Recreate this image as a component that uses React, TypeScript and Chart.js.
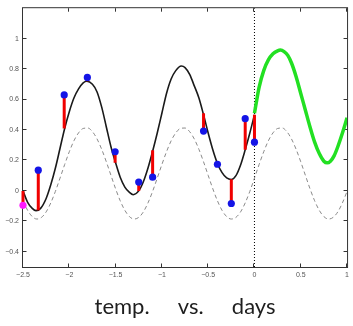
import React, { useEffect, useRef } from "react";
import { Chart, registerables } from "chart.js";

Chart.register(...registerables);

// x range and ticks
const xTicks = [-2.5, -2, -1.5, -1, -0.5, 0, 0.5, 1];
const yTicks = [-0.4, -0.2, 0, 0.2, 0.4, 0.6, 0.8, 1];

// fitted curve (black) on the training range
const blackX = [-2.5, -2.45, -2.4, -2.36, -2.31, -2.25, -2.2, -2.15, -2.1, -2.05, -2.0, -1.95, -1.9, -1.85, -1.81, -1.75, -1.7, -1.65, -1.6, -1.55, -1.5, -1.45, -1.4, -1.35, -1.31, -1.25, -1.2, -1.15, -1.1, -1.05, -1.0, -0.95, -0.9, -0.85, -0.79, -0.75, -0.7, -0.65, -0.6, -0.55, -0.5, -0.45, -0.4, -0.35, -0.3, -0.25, -0.2, -0.15, -0.1, -0.05, 0.0];
const blackY = [0.0, -0.075, -0.115, -0.13, -0.115, -0.05, 0.04, 0.15, 0.28, 0.41, 0.52, 0.61, 0.67, 0.71, 0.72, 0.70, 0.65, 0.55, 0.42, 0.29, 0.185, 0.09, 0.025, -0.01, -0.025, 0.0, 0.06, 0.15, 0.26, 0.38, 0.51, 0.64, 0.735, 0.79, 0.82, 0.81, 0.765, 0.69, 0.61, 0.50, 0.38, 0.27, 0.18, 0.12, 0.085, 0.075, 0.10, 0.17, 0.27, 0.38, 0.50];

// forecast (green)
const greenX = [0.0, 0.05, 0.1, 0.15, 0.2, 0.25, 0.28, 0.32, 0.36, 0.4, 0.45, 0.5, 0.55, 0.6, 0.65, 0.7, 0.75, 0.785, 0.82, 0.86, 0.9, 0.95, 1.0];
const greenY = [0.51, 0.68, 0.79, 0.86, 0.90, 0.92, 0.925, 0.915, 0.89, 0.84, 0.75, 0.64, 0.53, 0.42, 0.32, 0.245, 0.195, 0.184, 0.195, 0.23, 0.29, 0.38, 0.48];

// true underlying signal (dashed gray)
const dashX = [-2.5, -2.45, -2.4, -2.35, -2.3, -2.25, -2.2, -2.15, -2.1, -2.05, -2.0, -1.95, -1.9, -1.85, -1.8, -1.75, -1.7, -1.65, -1.6, -1.55, -1.5, -1.45, -1.4, -1.35, -1.3, -1.25, -1.2, -1.15, -1.1, -1.05, -1.0, -0.95, -0.9, -0.85, -0.8, -0.75, -0.7, -0.65, -0.6, -0.55, -0.5, -0.45, -0.4, -0.35, -0.3, -0.25, -0.2, -0.15, -0.1, -0.05, 0.0, 0.05, 0.1, 0.15, 0.2, 0.25, 0.3, 0.35, 0.4, 0.45, 0.5, 0.55, 0.6, 0.65, 0.7, 0.75, 0.8, 0.85, 0.9, 0.95, 1.0];
const dashY = [-0.065, -0.128, -0.169, -0.185, -0.174, -0.138, -0.079, -0.003, 0.084, 0.173, 0.257, 0.329, 0.381, 0.41, 0.413, 0.389, 0.341, 0.273, 0.191, 0.102, 0.014, -0.065, -0.128, -0.169, -0.185, -0.174, -0.138, -0.079, -0.003, 0.084, 0.173, 0.257, 0.329, 0.381, 0.41, 0.413, 0.389, 0.341, 0.273, 0.191, 0.102, 0.014, -0.065, -0.128, -0.169, -0.185, -0.174, -0.138, -0.079, -0.003, 0.084, 0.173, 0.257, 0.329, 0.381, 0.41, 0.413, 0.389, 0.341, 0.273, 0.191, 0.102, 0.014, -0.065, -0.128, -0.169, -0.185, -0.174, -0.138, -0.079, -0.003];

// observations (blue) and the fit value at each (red residual stems)
const obsX = [-2.335, -2.055, -1.805, -1.505, -1.25, -1.1, -0.55, -0.4, -0.25, -0.1, 0.0];
const obsY = [0.136, 0.63, 0.745, 0.257, 0.058, 0.09, 0.393, 0.175, -0.083, 0.474, 0.32];
const obsFit = [-0.127, 0.41, 0.72, 0.184, 0.0, 0.267, 0.51, 0.18, 0.077, 0.27, 0.5];

// first observation (magenta)
const startX = [-2.5];
const startY = [-0.095];
const startFit = [0.0];

const pts = (xs: number[], ys: number[]) => xs.map((x, i) => ({ x, y: ys[i] }));

const fmt = (v: number) => {
  const s = String(Math.round(v * 10) / 10);
  return s.replace("-", "\u2212");
};

const framePlugin = {
  id: "frame",
  beforeDatasetsDraw(chart: any) {
    const { ctx, chartArea, scales } = chart;
    const { left, right, top, bottom } = chartArea;
    const x = scales.x;
    const y = scales.y;
    ctx.save();
    ctx.strokeStyle = "#333";
    ctx.lineWidth = 1;
    ctx.strokeRect(left - 0.5, top - 0.5, right - left + 1, bottom - top + 1);
    const tl = 3.5;
    ctx.beginPath();
    xTicks.forEach((v) => {
      const px = Math.round(x.getPixelForValue(v)) - 0.5;
      ctx.moveTo(px, bottom);
      ctx.lineTo(px, bottom - tl);
      ctx.moveTo(px, top);
      ctx.lineTo(px, top + tl);
    });
    yTicks.forEach((v) => {
      const py = Math.round(y.getPixelForValue(v)) - 0.5;
      ctx.moveTo(left, py);
      ctx.lineTo(left + tl, py);
      ctx.moveTo(right, py);
      ctx.lineTo(right - tl, py);
    });
    ctx.stroke();
    ctx.restore();
  },
};

export default function App() {
  const ref = useRef<HTMLCanvasElement>(null);

  useEffect(() => {
    if (!ref.current) return;
    const stems: any[] = [];
    const allX = startX.concat(obsX);
    const allY = startY.concat(obsY);
    const allFit = startFit.concat(obsFit);
    allX.forEach((x, i) => {
      stems.push({ x, y: allY[i] });
      stems.push({ x, y: allFit[i] });
      stems.push({ x, y: null });
    });

    const chart = new Chart(ref.current, {
      type: "line",
      data: {
        datasets: [
          {
            data: pts(obsX, obsY),
            showLine: false,
            pointRadius: 3.6,
            pointBackgroundColor: "#1414e6",
            pointBorderWidth: 0,
            clip: false,
            order: 0,
          },
          {
            data: pts(startX, startY),
            showLine: false,
            pointRadius: 3.6,
            pointBackgroundColor: "#ff1aff",
            pointBorderWidth: 0,
            clip: false,
            order: 0,
          },
          {
            data: stems,
            borderColor: "#f00000",
            borderWidth: 3,
            pointRadius: 0,
            spanGaps: false,
            clip: false,
            order: 1,
          },
          {
            data: pts(greenX, greenY),
            borderColor: "#22e022",
            borderWidth: 3.5,
            pointRadius: 0,
            cubicInterpolationMode: "monotone",
            order: 2,
          },
          {
            data: pts(blackX, blackY),
            borderColor: "#1a1a1a",
            borderWidth: 1.6,
            pointRadius: 0,
            cubicInterpolationMode: "monotone",
            order: 3,
          },
          {
            data: pts(dashX, dashY),
            borderColor: "#8a8a8a",
            borderWidth: 1,
            borderDash: [4, 3],
            pointRadius: 0,
            cubicInterpolationMode: "monotone",
            order: 4,
          },
          {
            data: [
              { x: 0, y: -0.5 },
              { x: 0, y: 1.2 },
            ],
            borderColor: "#000",
            borderWidth: 1,
            borderDash: [1, 2],
            pointRadius: 0,
            order: 5,
          },
        ],
      },
      options: {
        animation: false,
        responsive: false,
        devicePixelRatio: 1,
        layout: { padding: { top: 7, right: 3, left: 0, bottom: 0 } },
        plugins: {
          legend: { display: false },
          tooltip: { enabled: false },
          title: {
            display: true,
            fullSize: false,
            position: "bottom",
            text: "temp.     vs.     days",
            color: "#1e1e1e",
            font: { family: "Lato", size: 22, weight: "normal" },
            padding: { top: 8, bottom: 6 },
          },
        },
        scales: {
          x: {
            type: "linear",
            min: -2.5,
            max: 1,
            grid: { display: false, drawTicks: false },
            border: { display: false },
            ticks: {
              autoSkip: false,
              maxRotation: 0,
              padding: 4,
              color: "#555",
              font: { family: "Liberation Sans", size: 7 },
              callback: (v: any) => fmt(Number(v)),
            },
            afterBuildTicks: (s: any) => {
              s.ticks = xTicks.map((v) => ({ value: v }));
            },
            afterFit: (s: any) => {
              s.height = 18.6;
            },
          },
          y: {
            type: "linear",
            min: -0.5,
            max: 1.2,
            grid: { display: false, drawTicks: false },
            border: { display: false },
            ticks: {
              autoSkip: false,
              padding: 4,
              color: "#555",
              font: { family: "Liberation Sans", size: 7 },
              callback: (v: any) => fmt(Number(v)),
            },
            afterBuildTicks: (s: any) => {
              s.ticks = yTicks.map((v) => ({ value: v }));
            },
            afterFit: (s: any) => {
              s.width = 23;
            },
          },
        },
      },
      plugins: [framePlugin],
    } as any);
    return () => chart.destroy();
  }, []);

  return (
    <div style={{ position: "absolute", left: 0, top: 0, width: 353, height: 326, background: "#fff" }}>
      <canvas ref={ref} width={353} height={326} style={{ display: "block" }} />
    </div>
  );
}
